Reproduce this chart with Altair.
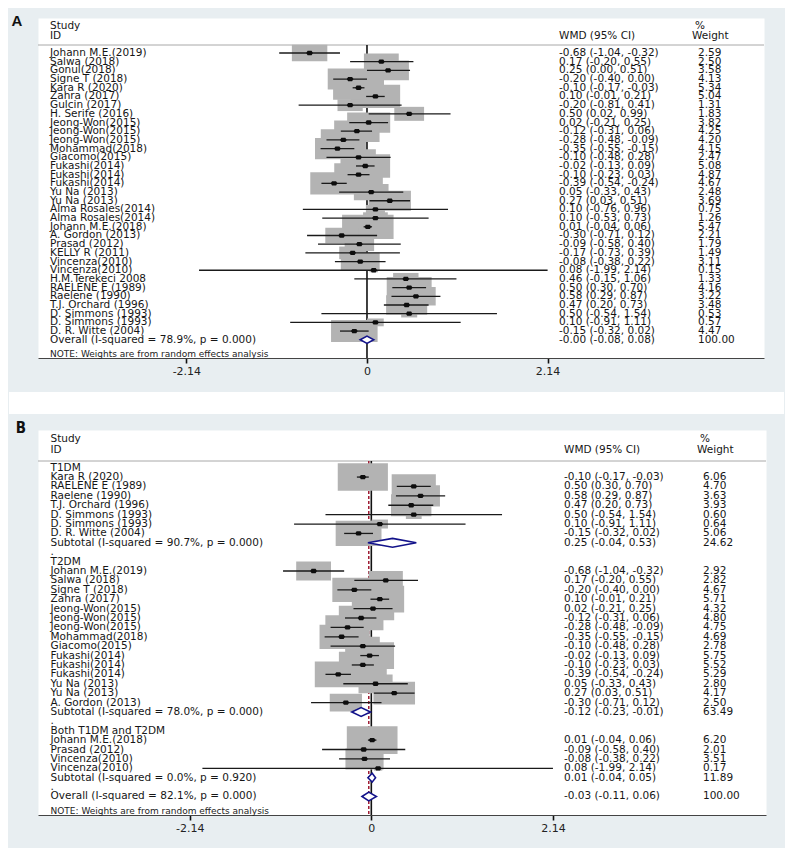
import altair as alt
import pandas as pd

# ---------------- Panel A data ----------------
studies_A = ["Johann M.E.(2019)", "Salwa (2018)", "Gonul(2018)", "Signe T (2018)", "Kara R (2020)",
             "Zahra (2017)", "Gulcin (2017)", "H. Serife (2016)", "Jeong-Won(2015)", "Jeong-Won(2015)",
             "Jeong-Won(2015)", "Mohammad(2018)", "Giacomo(2015)", "Fukashi(2014)", "Fukashi(2014)",
             "Fukashi(2014)", "Yu Na (2013)", "Yu Na (2013)", "Alma Rosales(2014)", "Alma Rosales(2014)",
             "Johann M.E.(2018)", "A. Gordon (2013)", "Prasad (2012)", "KELLY R (2011)", "Vincenza(2010)",
             "Vincenza(2010)", "H.M.Terekeci 2008", "RAELENE E (1989)", "Raelene (1990)",
             "T.J. Orchard (1996)", "D. Simmons (1993)", "D. Simmons (1993)", "D. R. Witte (2004)"]
wmd_A = [-0.68, 0.17, 0.25, -0.20, -0.10, 0.10, -0.20, 0.50, 0.02, -0.12, -0.28, -0.35, -0.10, -0.02,
         -0.10, -0.39, 0.05, 0.27, 0.10, 0.10, 0.01, -0.30, -0.09, -0.17, -0.08, 0.08, 0.46, 0.50, 0.58,
         0.47, 0.50, 0.10, -0.15]
lo_A = [-1.04, -0.20, 0.00, -0.40, -0.17, -0.01, -0.81, 0.02, -0.21, -0.31, -0.48, -0.55, -0.48, -0.13,
        -0.23, -0.54, -0.33, 0.03, -0.76, -0.53, -0.04, -0.71, -0.58, -0.73, -0.38, -1.99, -0.15, 0.30,
        0.29, 0.20, -0.54, -0.91, -0.32]
hi_A = [-0.32, 0.55, 0.51, 0.00, -0.03, 0.21, 0.41, 0.99, 0.25, 0.06, -0.09, -0.15, 0.28, 0.09, 0.03,
        -0.24, 0.43, 0.51, 0.96, 0.73, 0.06, 0.12, 0.40, 0.39, 0.22, 2.14, 1.06, 0.70, 0.87, 0.73, 1.54,
        1.11, 0.02]
weight_A = [2.59, 2.50, 3.58, 4.13, 5.34, 5.04, 1.31, 1.83, 3.82, 4.25, 4.20, 4.15, 2.47, 5.08, 4.87,
            4.67, 2.48, 3.69, 0.75, 1.26, 5.47, 2.21, 1.79, 1.49, 3.11, 0.15, 1.33, 4.16, 3.22, 3.48,
            0.53, 0.57, 4.47]
overall_label_A = "Overall  (I-squared = 78.9%, p = 0.000)"
overall_A = [-0.0, -0.08, 0.08, 100.00]

# ---------------- Panel B data ----------------
group_names_B = ["T1DM", "T2DM", "Both T1DM and T2DM"]
t1_studies = ["Kara R (2020)", "RAELENE E (1989)", "Raelene (1990)", "T.J. Orchard (1996)",
              "D. Simmons (1993)", "D. Simmons (1993)", "D. R. Witte (2004)"]
t1_wmd = [-0.10, 0.50, 0.58, 0.47, 0.50, 0.10, -0.15]
t1_lo = [-0.17, 0.30, 0.29, 0.20, -0.54, -0.91, -0.32]
t1_hi = [-0.03, 0.70, 0.87, 0.73, 1.54, 1.11, 0.02]
t1_w = [6.06, 4.70, 3.63, 3.93, 0.60, 0.64, 5.06]

t2_studies = ["Johann M.E.(2019)", "Salwa (2018)", "Signe T (2018)", "Zahra (2017)", "Jeong-Won(2015)",
              "Jeong-Won(2015)", "Jeong-Won(2015)", "Mohammad(2018)", "Giacomo(2015)", "Fukashi(2014)",
              "Fukashi(2014)", "Fukashi(2014)", "Yu Na (2013)", "Yu Na (2013)", "A. Gordon (2013)"]
t2_wmd = [-0.68, 0.17, -0.20, 0.10, 0.02, -0.12, -0.28, -0.35, -0.10, -0.02, -0.10, -0.39, 0.05, 0.27, -0.30]
t2_lo = [-1.04, -0.20, -0.40, -0.01, -0.21, -0.31, -0.48, -0.55, -0.48, -0.13, -0.23, -0.54, -0.33, 0.03, -0.71]
t2_hi = [-0.32, 0.55, 0.00, 0.21, 0.25, 0.06, -0.09, -0.15, 0.28, 0.09, 0.03, -0.24, 0.43, 0.51, 0.12]
t2_w = [2.92, 2.82, 4.67, 5.71, 4.32, 4.80, 4.75, 4.69, 2.78, 5.75, 5.52, 5.29, 2.80, 4.17, 2.50]

both_studies = ["Johann M.E.(2018)", "Prasad (2012)", "Vincenza(2010)", "Vincenza(2010)"]
both_wmd = [0.01, -0.09, -0.08, 0.08]
both_lo = [-0.04, -0.58, -0.38, -1.99]
both_hi = [0.06, 0.40, 0.22, 2.14]
both_w = [6.20, 2.01, 3.51, 0.17]

subtotal_labels_B = ["Subtotal  (I-squared = 90.7%, p = 0.000)",
                     "Subtotal  (I-squared = 78.0%, p = 0.000)",
                     "Subtotal  (I-squared = 0.0%, p = 0.920)"]
subtotal_wmd_B = [0.25, -0.12, 0.01]
subtotal_lo_B = [-0.04, -0.23, -0.04]
subtotal_hi_B = [0.53, -0.01, 0.05]
subtotal_w_B = [24.62, 63.49, 11.89]
overall_label_B = "Overall  (I-squared = 82.1%, p = 0.000)"
overall_B = [-0.03, -0.11, 0.06, 100.00]

note_text = "NOTE: Weights are from random effects analysis"
tick_values = [-2.14, 0, 2.14]

FONT = "DejaVu Sans"
TXT = "#161616"
FS = 10.5


def row(r, label, kind, est=None, lo=None, hi=None, w=None):
    d = dict(row=r, label=label, kind=kind, est=est, lo=lo, hi=hi, w=w, ci="", wt="")
    if est is not None:
        d["ci"] = f"{est:.2f} ({lo:.2f}, {hi:.2f})"
        d["wt"] = f"{w:.2f}"
    return d


# build tables
rows_A = [row(i, s, "study", e, l, h, w)
          for i, (s, e, l, h, w) in enumerate(zip(studies_A, wmd_A, lo_A, hi_A, weight_A))]
rows_A.append(row(len(studies_A), overall_label_A, "overall", *overall_A))
df_A = pd.DataFrame(rows_A)

rows_B = []
r = 0
group_data = [(t1_studies, t1_wmd, t1_lo, t1_hi, t1_w),
              (t2_studies, t2_wmd, t2_lo, t2_hi, t2_w),
              (both_studies, both_wmd, both_lo, both_hi, both_w)]
for g, (gname, gd) in enumerate(zip(group_names_B, group_data)):
    rows_B.append(row(r, gname, "group")); r += 1
    for s, e, l, h, w in zip(*gd):
        rows_B.append(row(r, s, "study", e, l, h, w)); r += 1
    rows_B.append(row(r, subtotal_labels_B[g], "subtotal", subtotal_wmd_B[g], subtotal_lo_B[g],
                      subtotal_hi_B[g], subtotal_w_B[g])); r += 1
    rows_B.append(row(r, ".", "blank")); r += 1
rows_B.append(row(r, overall_label_B, "overall", *overall_B))
df_B = pd.DataFrame(rows_B)


def diamonds(df, half):
    out = []
    for _, d in df[df.kind.isin(["subtotal", "overall"])].iterrows():
        out += [dict(did=d.row, x=d.lo, y=d.row, y2=d.row),
                dict(did=d.row, x=d.est, y=d.row - half, y2=d.row + half),
                dict(did=d.row, x=d.hi, y=d.row, y2=d.row)]
    return pd.DataFrame(out)


def panel(df, letter, width, height, xdom, ydom, hdr, box_k, box_path, dia_half,
          overall_line=None, gap=None, letter_font="Liberation Sans"):
    xs = alt.Scale(domain=xdom, nice=False, zero=False)
    ys = alt.Scale(domain=ydom, reverse=True, nice=False, zero=False)
    xaxis = alt.Axis(values=tick_values, labelExpr="datum.value == 0 ? '0' : '' + datum.value",
                     grid=False, title=None, domainColor="#444", domainWidth=1, tickColor="#111",
                     tickWidth=1.6, tickSize=5, labelFontSize=11, labelFont=FONT, labelColor="#222",
                     labelPadding=2, labelFlush=False)
    Y = alt.Y("row:Q", scale=ys, axis=None)
    base = alt.Chart(df)
    layers = []
    if gap is not None:
        layers.append(alt.Chart(df.head(1)).mark_rect(color="white").encode(
            x=alt.value(-29), x2=alt.value(width + 20), y=alt.value(gap[0]), y2=alt.value(gap[1])))
    # header separator
    layers.append(alt.Chart(df.head(1)).mark_rule(color="#a8a8a8", strokeWidth=1).encode(
        x=alt.value(0), x2=alt.value(width), y=alt.value(hdr["line"])))
    # zero line
    layers.append(alt.Chart(pd.DataFrame({"z": [0]})).mark_rule(color="#111", strokeWidth=1.6).encode(
        x=alt.X("z:Q", scale=xs, axis=xaxis), y=alt.value(hdr["line"]), y2=alt.value(height)))
    if overall_line is not None:
        layers.append(alt.Chart(pd.DataFrame({"o": [overall_line]})).mark_rule(
            color="#9e1b32", strokeWidth=1.5, strokeDash=[3, 2]).encode(
            x=alt.X("o:Q", scale=xs, axis=xaxis), y=alt.value(hdr["line"]), y2=alt.value(height)))
    studies = base.transform_filter("datum.kind == 'study'")
    # weight boxes
    layers.append(studies.transform_calculate(sz=f"datum.w * {box_k}").mark_point(
        shape=box_path, filled=True, color="#b3b3b3", opacity=1, strokeWidth=0).encode(
        x=alt.X("est:Q", scale=xs, axis=xaxis), y=Y, size=alt.Size("sz:Q", scale=None)))
    # CI lines
    layers.append(studies.mark_rule(color="#1a1a1a", strokeWidth=1.3).encode(
        x=alt.X("lo:Q", scale=xs, axis=xaxis), x2="hi:Q", y=Y))
    # point estimates
    layers.append(studies.mark_point(
        shape="M-1,0L-0.6,-0.65L0.6,-0.65L1,0L0.6,0.65L-0.6,0.65Z", filled=True, color="#0d0d0d",
        opacity=1, size=44).encode(x=alt.X("est:Q", scale=xs, axis=xaxis), y=Y))
    # diamonds
    dd = diamonds(df, dia_half)
    layers.append(alt.Chart(dd).mark_area(fill="white", fillOpacity=1, stroke="#12128a",
                                          strokeWidth=1.6, orient="vertical").encode(
        x=alt.X("x:Q", scale=xs, axis=xaxis), y=alt.Y("y:Q", scale=ys, axis=None), y2="y2:Q",
        detail="did:N"))
    # text columns
    tstyle = dict(align="left", baseline="middle", font=FONT, fontSize=FS, color=TXT)
    layers.append(base.mark_text(**tstyle).encode(x=alt.value(hdr["sx"]), y=Y, text="label:N"))
    layers.append(base.mark_text(**tstyle).encode(x=alt.value(hdr["cx"]), y=Y, text="ci:N"))
    layers.append(base.mark_text(**tstyle).encode(x=alt.value(hdr["wx"]), y=Y, text="wt:N"))
    # headers
    one = alt.Chart(df.head(1))
    for txt, xx, yy in [("Study", hdr["sx"], hdr["y1"]), ("ID", hdr["sx"], hdr["y2"]),
                        ("WMD (95% CI)", hdr["cx"], hdr["y2"]), ("%", hdr["wx"] - 3, hdr["y1"]),
                        ("Weight", hdr["wx"] - 6, hdr["y2"])]:
        layers.append(one.mark_text(text=txt, **tstyle).encode(x=alt.value(xx), y=alt.value(yy)))
    layers.append(one.mark_text(text=note_text, align="left", baseline="middle", font=FONT,
                                fontSize=9, color="#222").encode(
        x=alt.value(hdr["sx"]), y=alt.value(hdr["note"])))
    layers.append(one.mark_text(text=letter, align="center", baseline="middle", font=letter_font,
                                fontSize=15, fontWeight="bold", color="#111").encode(
        x=alt.value(hdr["lx"]), y=alt.value(hdr["ly"])))
    return alt.layer(*layers).properties(width=width, height=height)


hdr_A = dict(line=27, y1=8, y2=17.5, sx=12, cx=521, wx=660, note=335.5, lx=-21, ly=2.5)
hdr_B = dict(line=31, y1=9, y2=19.5, sx=12.5, cx=526, wx=665, note=381, lx=-17, ly=-2)

chart_A = panel(df_A, "A", 726, 340, [-3.898, 4.704], [-4.03, 35.1], hdr_A, 485,
                "M-1,-0.47H1V0.47H-1Z", 0.42, gap=(374, 396))
chart_B = panel(df_B, "B", 728, 385, [-3.927, 4.65], [-4.01, 36.97], hdr_B, 415,
                "M-1,-0.55H1V0.55H-1Z", 0.47, overall_line=overall_B[0],
                letter_font="Liberation Sans Narrow, DejaVu Sans Condensed, sans-serif")

chart = alt.vconcat(chart_A, chart_B, spacing=72, bounds="flush").properties(
    padding={"left": 0, "top": 5, "right": 0, "bottom": 14}
).configure(background="#e8eef1").configure_view(fill="white", stroke="transparent")

chart.save("out.html", embed_options={"renderer": "svg", "actions": False})
